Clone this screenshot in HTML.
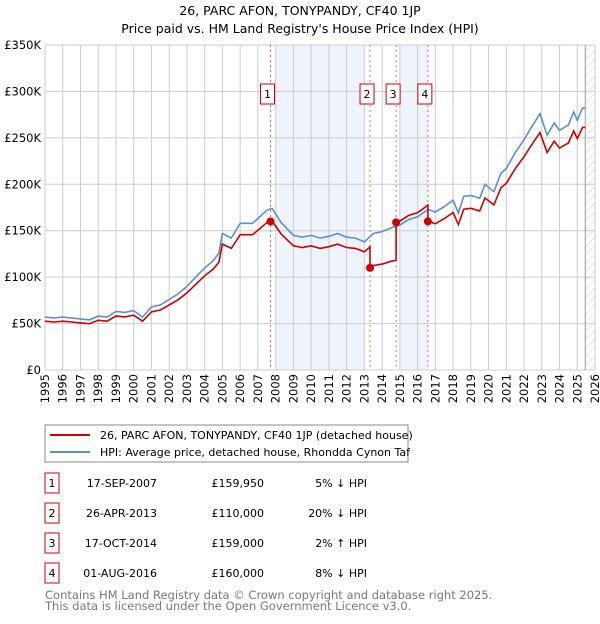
<!DOCTYPE html>
<html><head><meta charset="utf-8"><style>
body{margin:0;background:#fff;font-family:"DejaVu Sans","Liberation Sans",sans-serif;}
svg text{font-family:"DejaVu Sans","Liberation Sans",sans-serif;}
</style></head><body>
<svg id="c" width="600" height="620" xmlns="http://www.w3.org/2000/svg">
<text x="300" y="15" text-anchor="middle" font-size="12.5">26, PARC AFON, TONYPANDY, CF40 1JP</text>
<text x="300" y="33" text-anchor="middle" font-size="12.5">Price paid vs. HM Land Registry's House Price Index (HPI)</text>
<g id="plot"></g>
<rect x="45" y="425" width="363" height="37" fill="none" stroke="#888"/>
<line x1="50" y1="435" x2="90" y2="435" stroke="#cc0000" stroke-width="2"/>
<text x="100" y="439" font-size="11">26, PARC AFON, TONYPANDY, CF40 1JP (detached house)</text>
<line x1="50" y1="452" x2="90" y2="452" stroke="#5b8fd4" stroke-width="2"/>
<text x="100" y="456" font-size="11">HPI: Average price, detached house, Rhondda Cynon Taf</text>
<g id="tbl"></g>
<text x="45" y="599" font-size="11.5" fill="#777">Contains HM Land Registry data © Crown copyright and database right 2025.</text>
<text x="45" y="610" font-size="11.5" fill="#777">This data is licensed under the Open Government Licence v3.0.</text>
</svg>
<script>
const hpiYears=[1995,1995.5,1996,1996.5,1997,1997.5,1998,1998.5,1999,1999.5,2000,2000.5,2001,2001.5,2002,2002.5,2003,2003.5,2004,2004.5,2004.8,2005,2005.5,2006,2006.7,2007.5,2007.8,2008.3,2008.7,2009,2009.5,2010,2010.5,2011,2011.5,2012,2012.5,2013,2013.5,2014,2014.5,2015,2015.5,2016,2016.6,2017,2017.5,2018,2018.3,2018.6,2019,2019.5,2019.8,2020.3,2020.7,2021,2021.5,2022,2022.5,2022.9,2023.3,2023.7,2024,2024.5,2024.8,2025,2025.3,2025.45];
const hpiValues=[57,56,57,56,55,54,58,57,63,62,64,57,68,70,76,82,90,100,110,118,126,147,142,158,158,172,174,159,151,145,143,145,142,144,147,143,142,138,147,149,153,156,162,165,173,170,176,183,169,187,188,185,200,192,212,217,234,248,264,276,253,266,258,264,278,269,282,282];
const saleYears=[2007.71,2013.32,2014.79,2016.58];
const salePrices=[159950,110000,159000,160000];
const saleDates=["17-SEP-2007","26-APR-2013","17-OCT-2014","01-AUG-2016"];
const salePriceLabels=["£159,950","£110,000","£159,000","£160,000"];
const saleHpiLabels=["5% ↓ HPI","20% ↓ HPI","2% ↑ HPI","8% ↓ HPI"];
const yTicks=[0,50,100,150,200,250,300,350];
const NS="http://www.w3.org/2000/svg";
const X=y=>45+(y-1995)*(550/31);
const Y=v=>370-v*(325/350);
function mk(t,a,p){const e=document.createElementNS(NS,t);for(const k in a)e.setAttribute(k,a[k]);p.appendChild(e);return e;}
const g=document.getElementById('plot');
function hpiAt(t){for(let i=1;i<hpiYears.length;i++){if(t<=hpiYears[i]){const f=(t-hpiYears[i-1])/(hpiYears[i]-hpiYears[i-1]);return hpiValues[i-1]+f*(hpiValues[i]-hpiValues[i-1]);}}return hpiValues[hpiValues.length-1];}
let s=mk('rect',{x:X(2008),y:45,width:X(2013)-X(2008),height:325,fill:'#eef3fc'},g);


s=mk('rect',{x:X(2015),y:45,width:X(2016.58)-X(2015),height:325,fill:'#eef3fc'},g);


const defs=mk('defs',{},g);const pat=mk('pattern',{id:'h',width:6,height:6,patternUnits:'userSpaceOnUse',patternTransform:'rotate(45)'},defs);mk('line',{x1:0,y1:0,x2:0,y2:6,stroke:'#ccc','stroke-width':1},pat);
s=mk('rect',{x:X(2025.45),y:45,width:595-X(2025.45),height:325,fill:'url(#h)'},g);


for(let yr=1995;yr<=2026;yr++){const l=mk('line',{x1:X(yr),x2:X(yr),y1:45,y2:370,stroke:'#ccc'},g);


const tx=X(yr)+4,ty=374;
const t=mk('text',{x:tx,y:ty,'text-anchor':'end','font-size':11.5,transform:'rotate(-90 '+tx+' '+ty+')'},g);t.textContent=yr;

}
yTicks.forEach(v=>{const l=mk('line',{x1:45,x2:595,y1:Y(v),y2:Y(v),stroke:'#ccc'},g);


const t=mk('text',{x:41,y:Y(v)+4,'text-anchor':'end','font-size':11.5},g);t.textContent=v===0?'£0':'£'+v+'K';

});
mk('line',{x1:X(2025.45),x2:X(2025.45),y1:45,y2:370,stroke:'#999'},g);
saleYears.forEach((yr,i)=>{const l=mk('line',{x1:X(yr),x2:X(yr),y1:45,y2:370,stroke:'#e06666','stroke-dasharray':'2,3'},g);


const r=mk('rect',{x:X(yr)-10,y:84,width:14,height:20,fill:'#fff',stroke:'#cc0000'},g);


const t=mk('text',{x:X(yr)-3,y:98,'text-anchor':'middle','font-size':11},g);t.textContent=i+1;

});
let d='';hpiYears.forEach((yr,i)=>{d+=(i?'L':'M')+X(yr).toFixed(1)+','+Y(hpiValues[i]).toFixed(1);});
let p=mk('path',{d:d,fill:'none',stroke:'#5b8fd4','stroke-width':1.6},g);


function ratioAt(t){let k=0;for(let i=0;i<saleYears.length;i++)if(t>=saleYears[i])k=i;return salePrices[k]/1000/hpiAt(saleYears[k]);}
let pts=[];hpiYears.forEach((yr,i)=>pts.push([yr,hpiValues[i]*ratioAt(yr)]));
saleYears.forEach((yr,i)=>{pts.push([yr-0.001,hpiAt(yr)*ratioAt(yr-0.01)]);pts.push([yr,salePrices[i]/1000]);});
pts.sort((a,b)=>a[0]-b[0]);
d='';pts.forEach((q,i)=>{d+=(i?'L':'M')+X(q[0]).toFixed(1)+','+Y(q[1]).toFixed(1);});
p=mk('path',{d:d,fill:'none',stroke:'#cc0000','stroke-width':1.6},g);


saleYears.forEach((yr,i)=>{const c=mk('circle',{cx:X(yr),cy:Y(salePrices[i]/1000),r:4,fill:'#cc0000'},g);

});
const tb=document.getElementById('tbl');
saleDates.forEach((dt,i)=>{const cy=483+i*30;
const r=mk('rect',{x:45,y:cy-10,width:14,height:20,fill:'#fff',stroke:'#cc0000'},tb);


const a=mk('text',{x:52,y:cy+4,'text-anchor':'middle','font-size':11},tb);a.textContent=i+1;


const b=mk('text',{x:157,y:cy+4,'text-anchor':'end','font-size':11},tb);b.textContent=dt;


const c=mk('text',{x:264,y:cy+4,'text-anchor':'end','font-size':11},tb);c.textContent=salePriceLabels[i];


const e=mk('text',{x:367,y:cy+4,'text-anchor':'end','font-size':11},tb);e.textContent=saleHpiLabels[i];

});
</script>
</body></html>
